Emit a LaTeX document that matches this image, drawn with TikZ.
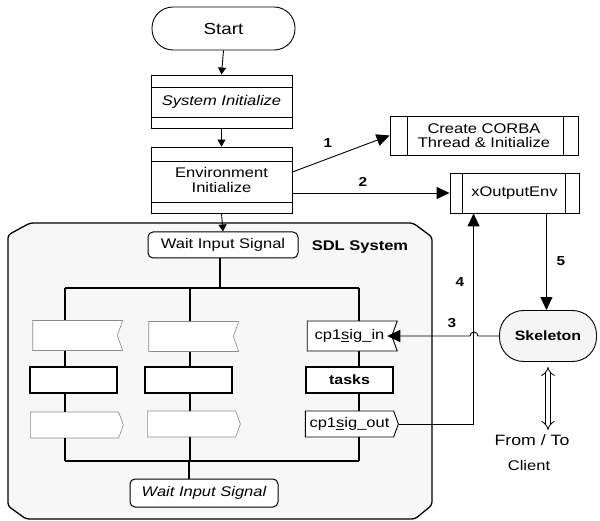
\documentclass[tikz,border=0pt]{standalone}
\usepackage{fontspec}
\setmainfont{Liberation Sans}[FakeStretch=1.18]
\usetikzlibrary{arrows.meta}
\usetikzlibrary{calc}
\usetikzlibrary{shapes.symbols}

\tikzset{
  term/.style={draw, line width=0.9pt, rounded corners=21pt, inner sep=0pt},
  proc/.style={draw, line width=0.9pt, minimum width=141pt, inner sep=0pt, align=center},
  subr/.style={draw, line width=0.9pt, inner sep=0pt, align=center},
  waitbox/.style={draw, line width=1pt, rounded corners=5pt, fill=white, inner sep=0pt},
  sigin/.style={signal, signal to=nowhere, signal from=east, signal pointer angle=140,
    draw, fill=white, inner sep=0pt, minimum width=90pt, minimum height=30pt},
  sigout/.style={signal, signal to=east, signal pointer angle=140,
    draw, fill=white, inner sep=0pt, minimum width=93pt, minimum height=26pt},
  taskbox/.style={draw, line width=1.8pt, fill=white, inner sep=0pt,
    minimum width=87pt, minimum height=26pt},
  faint/.style={draw=black!45, line width=0.6pt},
  flow/.style={line width=0.9pt, -{Triangle[length=7pt,width=8pt]}},
  bigarrow/.style={line width=0.9pt, -{Triangle[length=13pt,width=12pt]}},
  num/.style={font=\bfseries\fontsize{13}{15}\selectfont}
}

\begin{document}
\begin{tikzpicture}[x=1pt,y=1pt,yscale=-1,xscale=1,
  font=\fontsize{14}{16}\selectfont]
\useasboundingbox (0,0) rectangle (600,521);

%SDL system frame
\draw [line width=1.3pt, fill=black!3, rounded corners=3pt]
  (30,223) -- (413,223) -- (432,237) -- (432,505) -- (415,519)
  -- (26,519) -- (8,506) -- (8,235) -- cycle;

% Start and init boxes
\node [term, minimum width=143pt, minimum height=43pt, font=\fontsize{16}{18}\selectfont] (start) at (223.5,28.5) {Start};
\node [proc, minimum height=53pt, font=\itshape\fontsize{14}{16}\selectfont] (sysinit) at (221.5,101.5) {System Initialize};
\draw [line width=0.9pt] ($(sysinit.north west)+(0,13)$) -- ($(sysinit.north east)+(0,13)$);
\draw [line width=0.9pt] ($(sysinit.south west)+(0,-11)$) -- ($(sysinit.south east)+(0,-11)$);
\node [proc, minimum height=66pt, font=\fontsize{14}{15}\selectfont] (envinit) at (221.5,180) {Environment\\Initialize};
\draw [line width=0.9pt] ($(envinit.north west)+(0,15)$) -- ($(envinit.north east)+(0,15)$);
\draw [line width=0.9pt] ($(envinit.south west)+(0,-11)$) -- ($(envinit.south east)+(0,-11)$);

% Subroutine boxes
\node [subr, minimum width=188pt, minimum height=39pt, font=\fontsize{14}{14.5}\selectfont] (corba) at (484,135.5) {Create CORBA\\Thread \& Initialize};
\draw [line width=0.9pt] ($(corba.north west)+(18,0)$) -- ($(corba.south west)+(18,0)$);
\draw [line width=0.9pt] ($(corba.north east)+(-15,0)$) -- ($(corba.south east)+(-15,0)$);
\node [subr, minimum width=129pt, minimum height=40pt] (xout) at (514.5,193) {xOutputEnv};
\draw [line width=0.9pt] ($(xout.north west)+(13,0)$) -- ($(xout.south west)+(13,0)$);
\draw [line width=0.9pt] ($(xout.north east)+(-14,0)$) -- ($(xout.south east)+(-14,0)$);

% Wait states
\node [waitbox, minimum width=150pt, minimum height=26pt] (waittop) at (223,245) {Wait Input Signal};
\node [waitbox, minimum width=148pt, minimum height=28pt, font=\itshape\fontsize{14}{16}\selectfont] (waitbot) at (204,493) {Wait Input Signal};
\node [font=\bfseries\fontsize{14}{16}\selectfont] (sdl) at (360,247) {SDL System};

% Bus coordinates
\coordinate (bt1) at (65,288);
\coordinate (bt2) at (190,288);
\coordinate (bt3) at (359,288);
\coordinate (bb1) at (65,461);
\coordinate (bb2) at (189,461);
\coordinate (bb3) at (359,461);

% Transition columns
\node [sigin, faint] (in1) at (75,335.5) {};
\node [taskbox] (task1) at (73.5,380) {};
\node [sigout, faint] (out1) at (74.5,425) {};
\node [sigin, faint] (in2) at (191,336.5) {};
\node [taskbox] (task2) at (188.5,380) {};
\node [sigout, faint] (out2) at (191.5,424) {};
\node [sigin, line width=0.9pt] (in3) at (349.5,336) {cp1\underline{s}ig\_in};
\node [taskbox, font=\bfseries\fontsize{13.5}{16}\selectfont] (task3) at (349.5,380) {tasks};
\node [sigout, line width=0.9pt] (out3) at (349.5,424) {cp1\underline{s}ig\_out};

\draw [line width=1.3pt] (bt1) -- (bt3);
\draw [line width=1.3pt] (bb1) -- (bb3);
\draw [line width=1.3pt] (waittop.south -| 220,0) -- (220,288);
\draw [line width=1.3pt] (bb2) -- (bb2 |- waitbot.north);
\foreach \i/\c in {1/bt1,2/bt2,3/bt3}{
  \draw [line width=1.3pt] (\c) -- (in\i.north -| \c);
  \draw [line width=1.3pt] (in\i.south -| \c) -- (task\i.north -| \c);
  \draw [line width=1.3pt] (task\i.south -| \c) -- (out\i.north -| \c);
  \draw [line width=1.3pt] (out\i.south -| \c) -- (\c |- bb1);
}

% Skeleton
\node [term, fill=black!4, minimum width=97pt, minimum height=51pt, rounded corners=24pt,
  font=\bfseries\fontsize{13.5}{16}\selectfont] (skel) at (548,336) {Skeleton};
\node (from) at (532,440) {\fontsize{15}{17}\selectfont From / To};
\node (client) at (529,465) {Client};

% Main flow
\draw [flow] (start.south) -- (sysinit.north);
\draw [flow] (sysinit.south) -- (envinit.north);
\draw [flow] (envinit.south) -- (waittop.north);

% Numbered connections
\draw [bigarrow] ($(envinit.east)+(0,-8)$) -- (corba.west);
\draw [bigarrow] ($(envinit.east)+(0,13)$) -- (xout.west);
\draw [bigarrow] (skel.west) -- (478,336) arc [start angle=0, end angle=-180, radius=4] -- ($(in3.east)+(-5,0)$);
\draw [bigarrow] (out3.east) -| ($(xout.south west)+(24,0)$);
\coordinate (c5) at ($(xout.south east)+(-33,0)$);
\draw [bigarrow] (c5) -- (c5 |- skel.north);
\draw [line width=0.8pt, double, double distance=4pt, {Implies}-{Implies}] ($(skel.south)+(0,5)$) -- ($(skel.south)+(0,68)$);

\node [num] (n1) at (328,143) {1};
\node [num] (n2) at (363,182) {2};
\node [num] (n3) at (452,323) {3};
\node [num] (n4) at (460,282) {4};
\node [num] (n5) at (561,261) {5};
\end{tikzpicture}
\end{document}
